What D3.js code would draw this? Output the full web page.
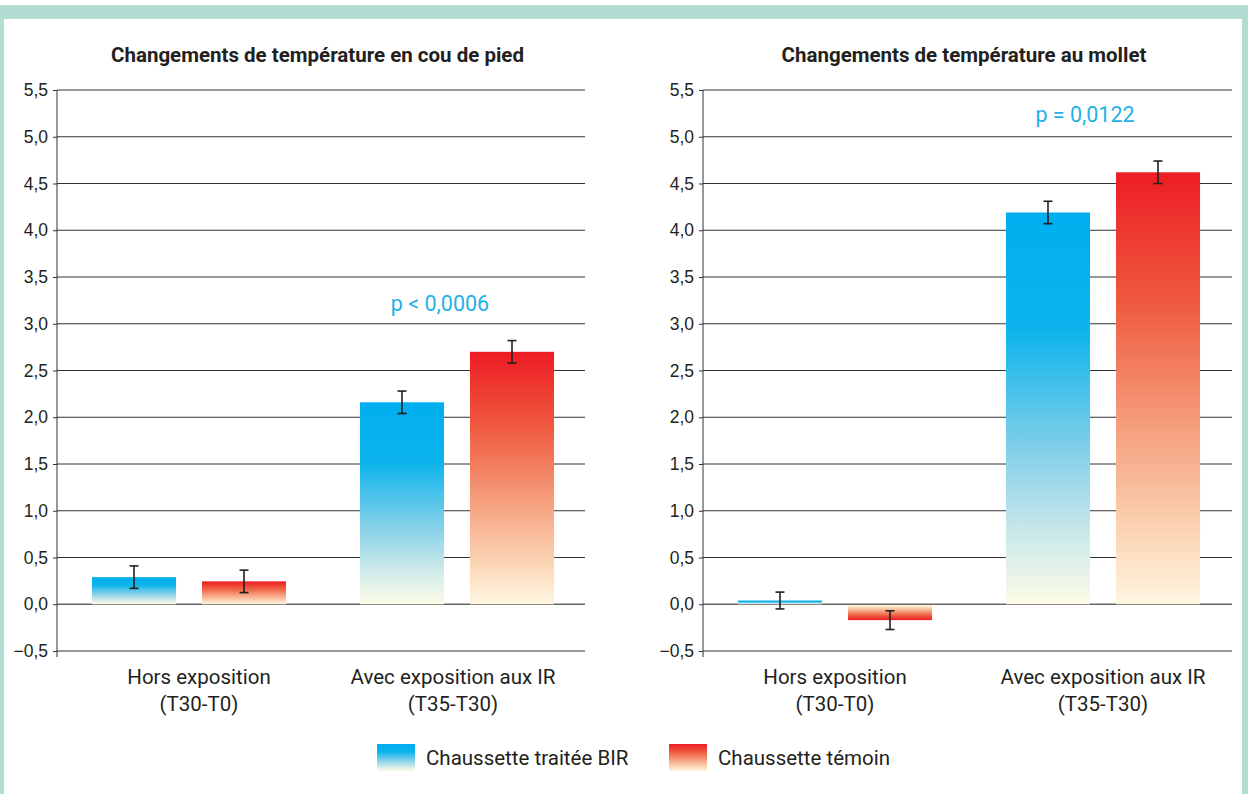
<!DOCTYPE html>
<html>
<head>
<meta charset="utf-8">
<script src="https://cdn.jsdelivr.net/npm/d3@7"></script>
<style>
  body { margin: 0; background: #fff; }
  svg { display: block; font-family: Roboto, "Open Sans", sans-serif; }
</style>
</head>
<body>
<svg id="canvas"></svg>
<script>
// data
let categories = ['Hors exposition|(T30-T0)', 'Avec exposition aux IR|(T35-T30)'];
let series = ['Chaussette traitée BIR', 'Chaussette témoin'];
let yTicks = [-0.5, 0, 0.5, 1, 1.5, 2, 2.5, 3, 3.5, 4, 4.5, 5, 5.5];

let piedTitle = 'Changements de température en cou de pied';
let piedBIR = [0.29, 2.16];
let piedBIRErr = [0.12, 0.12];
let piedTemoin = [0.245, 2.70];
let piedTemoinErr = [0.12, 0.12];
let piedP = 'p < 0,0006';
let piedPValue = 3.14;

let molletTitle = 'Changements de température au mollet';
let molletBIR = [0.04, 4.19];
let molletBIRErr = [0.09, 0.12];
let molletTemoin = [-0.17, 4.62];
let molletTemoinErr = [0.10, 0.12];
let molletP = 'p = 0,0122';
let molletPValue = 5.16;

let width = 1248;
let height = 794;
let svg = d3.select('#canvas').attr('width', width).attr('height', height);

/* teal frame round the figure */
svg.append('rect').attr('x', 0).attr('y', 5).attr('width', width).attr('height', height - 5).attr('fill', '#b2ddd3');
svg.append('rect').attr('x', 4).attr('y', 19).attr('width', 1238).attr('height', height - 19).attr('fill', '#fff');

/* gradients, one per series, per bar box */
let defs = svg.append('defs');
let makeGrad = (id, stops, flip) => {
    let g = defs.append('linearGradient').attr('id', id)
        .attr('x1', 0).attr('x2', 0).attr('y1', flip ? 1 : 0).attr('y2', flip ? 0 : 1);
    stops.forEach(s => g.append('stop').attr('offset', s[0]).attr('stop-color', s[1]));
};
let blueStops = [[0, '#00aeef'], [0.3, '#0db4ec'], [0.6, '#7fcfe8'], [0.85, '#d4ecea'], [1, '#fdfbe6']];
let redStops = [[0, '#ed1c24'], [0.3, '#ef5a3f'], [0.6, '#f5a17f'], [0.85, '#fcd8b8'], [1, '#fff6e2']];
makeGrad('gBlue', blueStops, false);
makeGrad('gRed', redStops, false);
makeGrad('gBlueNeg', blueStops, true);
makeGrad('gRedNeg', redStops, true);

let yScale = d3.scaleLinear().domain([-0.5, 5.5]).range([651, 90]);
let fmt = d => d3.format('.1f')(d).replace('.', ',');

let drawChart = (x0, x1, title, birVals, birErr, temVals, temErr, pText, pVal, pDx, labelDx) => {
    let g = svg.append('g');
    let xScale = d3.scaleBand().domain(categories).range([x0 - 2, x0 + 534]).padding(0);
    let inner = d3.scaleBand().domain(series).range([0, xScale.bandwidth()])
        .paddingInner(0.236).paddingOuter(0.336);

    // gridlines
    g.selectAll('line.grid').data(yTicks).enter().append('line')
        .attr('x1', x0).attr('x2', x1)
        .attr('y1', d => yScale(d)).attr('y2', d => yScale(d))
        .attr('stroke', d => d === 0 ? '#666' : '#333').attr('stroke-width', d => d === 0 ? 1.5 : 1);

    // y axis
    let yAxis = d3.axisLeft(yScale).tickValues(yTicks).tickSize(4).tickPadding(5).tickFormat(fmt);
    let ax = g.append('g').attr('transform', 'translate(' + x0 + ',0)').call(yAxis);
    ax.select('.domain').remove();
    ax.selectAll('line').attr('stroke', '#333');
    ax.selectAll('text').attr('font-size', 17.5).attr('fill', '#231f20');
    g.append('line').attr('x1', x0).attr('x2', x0).attr('y1', yScale(5.5)).attr('y2', yScale(-0.5) + 6)
        .attr('stroke', '#333').attr('stroke-width', 1);

    // bars
    let rows = [];
    categories.forEach((c, i) => {
        rows.push({cat: c, s: series[0], v: birVals[i], e: birErr[i], col: 'Blue'});
        rows.push({cat: c, s: series[1], v: temVals[i], e: temErr[i], col: 'Red'});
    });
    g.selectAll('rect.bar').data(rows).enter().append('rect')
        .attr('x', d => xScale(d.cat) + inner(d.s))
        .attr('width', inner.bandwidth())
        .attr('y', d => yScale(Math.max(0, d.v)) + (d.v < 0 ? 1 : 0))
        .attr('height', d => Math.abs(yScale(d.v) - yScale(0)) - (d.v < 0 ? 1 : 0))
        .attr('fill', d => 'url(#g' + d.col + (d.v < 0 ? 'Neg' : '') + ')');

    // error bars
    let eb = g.selectAll('g.err').data(rows).enter().append('g')
        .attr('transform', d => 'translate(' + (xScale(d.cat) + inner(d.s) + inner.bandwidth() / 2) + ',0)');
    eb.append('line').attr('y1', d => yScale(d.v + d.e)).attr('y2', d => yScale(d.v - d.e))
        .attr('stroke', '#231f20').attr('stroke-width', 1.6);
    eb.append('line').attr('x1', -4.5).attr('x2', 4.5).attr('y1', d => yScale(d.v + d.e)).attr('y2', d => yScale(d.v + d.e))
        .attr('stroke', '#231f20').attr('stroke-width', 1.6);
    eb.append('line').attr('x1', -4.5).attr('x2', 4.5).attr('y1', d => yScale(d.v - d.e)).attr('y2', d => yScale(d.v - d.e))
        .attr('stroke', '#231f20').attr('stroke-width', 1.6);

    // category labels
    categories.forEach((c, i) => {
        let parts = c.split('|');
        let cx = xScale(c) + xScale.bandwidth() / 2 + labelDx[i];
        let t = g.append('text').attr('text-anchor', 'middle').attr('font-size', 20.5).attr('fill', '#231f20');
        t.append('tspan').attr('x', cx).attr('y', 684).text(parts[0]);
        t.append('tspan').attr('x', cx).attr('y', 711).text(parts[1]);
    });

    // title
    g.append('text').attr('x', (x0 + x1) / 2 - 3.5).attr('y', 62).attr('text-anchor', 'middle')
        .attr('font-size', 20.5).attr('font-weight', 'bold').attr('fill', '#231f20').text(title);

    // p value
    g.append('text').attr('x', xScale(categories[1]) + xScale.bandwidth() / 2 + pDx).attr('y', yScale(pVal))
        .attr('text-anchor', 'middle').attr('font-size', 21.5).attr('fill', '#1fb1e8').text(pText);
};

drawChart(57, 585, piedTitle, piedBIR, piedBIRErr, piedTemoin, piedTemoinErr, piedP, piedPValue, -17, [10, -4]);
drawChart(703, 1232, molletTitle, molletBIR, molletBIRErr, molletTemoin, molletTemoinErr, molletP, molletPValue, -18, [0, 0]);

// legend
let legX = [377, 669];
let leg = svg.selectAll('g.leg').data(series).enter().append('g')
    .attr('transform', (d, i) => 'translate(' + legX[i] + ',744)');
leg.append('rect').attr('width', 38).attr('height', 27)
    .attr('fill', (d, i) => i === 0 ? 'url(#gBlue)' : 'url(#gRed)');
leg.append('text').attr('x', 49).attr('y', 21).attr('font-size', 20.5).attr('fill', '#231f20').text(d => d);
</script>
</body>
</html>
